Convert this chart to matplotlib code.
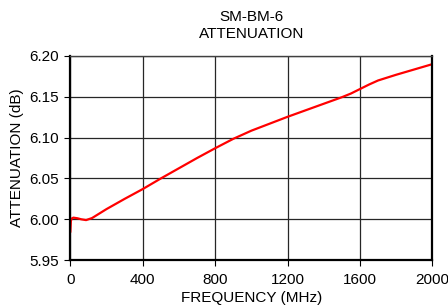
import matplotlib
matplotlib.use('Agg')
import matplotlib.pyplot as plt

plt.rcParams['font.family'] = ['Liberation Sans', 'DejaVu Sans']

# frequency (MHz) vs attenuation (dB)
freq = [0, 3, 8, 17, 40, 60, 87, 120, 200, 300, 400, 500, 600, 700, 800,
        900, 1000, 1100, 1200, 1300, 1400, 1500, 1550, 1600, 1650, 1700,
        1800, 1900, 2000]
atten = [5.985, 5.998, 6.0010, 6.0020, 6.0012, 6.0000, 5.9990, 6.0015,
         6.0125, 6.0250, 6.0370, 6.0500, 6.0625, 6.0750, 6.0870, 6.0985,
         6.1085, 6.1170, 6.1255, 6.1335, 6.1415, 6.1495, 6.1540, 6.1595,
         6.1650, 6.1700, 6.1770, 6.1835, 6.1900]

xticks = [0, 400, 800, 1200, 1600, 2000]
yticks = [5.95, 6.00, 6.05, 6.10, 6.15, 6.20]

FS = 11

fig = plt.figure(figsize=(4.48, 3.06), dpi=100)
ax = fig.add_axes([0.157, 0.150, 0.808, 0.667])

ax.plot(freq, atten, color='#ff0000', linewidth=1.6)

ax.set_xlim(0, 2000)
ax.set_ylim(5.95, 6.20)
ax.set_xticks(xticks)
ax.set_yticks(yticks)
ax.set_yticklabels(['%.2f' % v for v in yticks])
ax.grid(True, color='#262626', linewidth=0.9)
ax.tick_params(labelsize=FS, length=4, direction='out', colors='black')
ax.tick_params(axis='y', pad=4)
ax.tick_params(axis='x', pad=5)
for side in ['left', 'right', 'bottom']:
    ax.spines[side].set_linewidth(1.6)
ax.spines['top'].set_linewidth(1.0)
ax.spines['top'].set_color('#404040')

ax.set_xlabel('FREQUENCY (MHz)', fontsize=FS, labelpad=3)
ax.set_ylabel('ATTENUATION (dB)', fontsize=FS, labelpad=4)
ax.set_title('SM-BM-6\nATTENUATION', fontsize=FS, pad=13, linespacing=1.3)

fig.savefig('out.png', dpi=100)
